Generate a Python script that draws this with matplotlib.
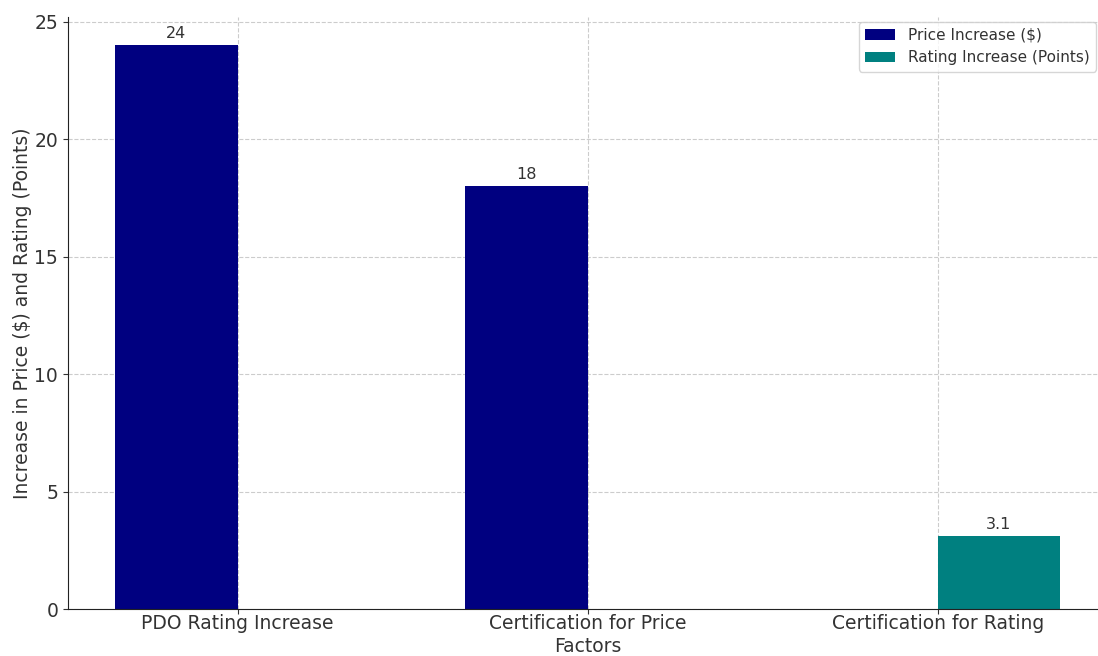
import numpy as np
import matplotlib
matplotlib.use("Agg")
from matplotlib import pyplot as plt

# chart data
factors = ["PDO Rating Increase", "Certification for Price", "Certification for Rating"]
price_increase = [24, 18, 0]
rating_increase = [0, 0, 3.1]

plt.rcParams['font.family'] = ['DejaVu Sans']
plt.rcParams['text.color'] = '#333333'
plt.rcParams['axes.labelcolor'] = '#333333'
plt.rcParams['xtick.color'] = '#333333'
plt.rcParams['ytick.color'] = '#333333'

fig = plt.figure(figsize=(10.98, 6.56), dpi=100)
ax = fig.add_axes([0.0619, 0.0716, 0.9467, 0.9024])

x = np.arange(len(factors))
width = 0.35

bars1 = ax.bar(x - width / 2, price_increase, width, color='navy', label='Price Increase ($)')
bars2 = ax.bar(x + width / 2, rating_increase, width, color='teal', label='Rating Increase (Points)')

# value labels on non-zero bars
for bars in (bars1, bars2):
    for b in bars:
        h = b.get_height()
        if h > 0:
            ax.annotate(f'{h:g}', xy=(b.get_x() + b.get_width() / 2, h),
                        xytext=(0, 3), textcoords='offset points',
                        ha='center', va='bottom', fontsize=11.5, color='#333333')

ax.set_xticks(x)
ax.set_xticklabels(factors, fontsize=13.5)
ax.tick_params(axis='y', labelsize=13.5)
ax.tick_params(axis='x', pad=0)
ax.set_xlabel('Factors', fontsize=13.5, labelpad=3)
ax.set_ylabel('Increase in Price ($) and Rating (Points)', fontsize=13.5, labelpad=2)

ax.grid(True, linestyle='--', color='#cccccc', linewidth=0.8)
ax.set_axisbelow(True)
for s in ['top', 'right']:
    ax.spines[s].set_visible(False)
for s in ['left', 'bottom']:
    ax.spines[s].set_color('#222222')

ax.legend(loc='upper right', fontsize=11, bbox_to_anchor=(0.993, 1.0), borderaxespad=0.3)

fig.savefig('out.png', dpi=100)
